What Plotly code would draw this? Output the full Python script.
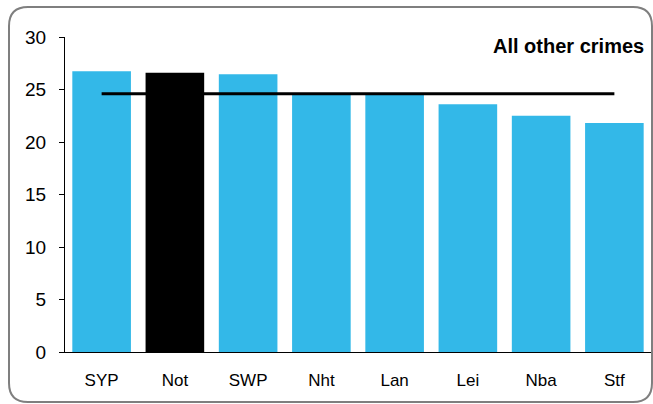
import plotly.graph_objects as go

categories = ["SYP", "Not", "SWP", "Nht", "Lan", "Lei", "Nba", "Stf"]
values = [26.75, 26.6, 26.45, 24.5, 24.5, 23.6, 22.5, 21.8]
highlight = "Not"
average = 24.6
title_text = "All other crimes"

BLUE = "#33B8E8"
colors = ["#000000" if c == highlight else BLUE for c in categories]

W, H = 653, 404
ml, mr, mt, mb = 65, 2, 37, 52
pw, ph = W - ml - mr, H - mt - mb

def px(x):
    return (x - ml) / pw

def py(y):
    return (H - mb - y) / ph

fig = go.Figure()
fig.add_trace(go.Bar(x=categories, y=values, marker=dict(color=colors, line=dict(width=0)),
                     width=0.8, showlegend=False, hoverinfo="x+y"))
fig.add_trace(go.Scatter(x=[categories[0], categories[-1]], y=[average, average], mode="lines",
                         line=dict(color="#000000", width=3), showlegend=False))

# rounded frame
x0, x1, y0, y1, r = 9, 652, 7, 402, 19
rx, ry = r / pw, r / ph
X0, X1, Y0, Y1 = px(x0), px(x1), py(y1), py(y0)
path = (f"M {X0+rx},{Y1} L {X1-rx},{Y1} Q {X1},{Y1} {X1},{Y1-ry} "
        f"L {X1},{Y0+ry} Q {X1},{Y0} {X1-rx},{Y0} "
        f"L {X0+rx},{Y0} Q {X0},{Y0} {X0},{Y0+ry} "
        f"L {X0},{Y1-ry} Q {X0},{Y1} {X0+rx},{Y1} Z")

fig.update_layout(
    width=W, height=H,
    margin=dict(l=ml, r=mr, t=mt, b=mb),
    paper_bgcolor="white", plot_bgcolor="white",
    font=dict(family="Liberation Sans, Arial, sans-serif", size=17, color="#000000"),
    bargap=0.2,
    xaxis=dict(showline=True, linecolor="#000000", linewidth=1, ticks="", showgrid=False,
               tickfont=dict(size=17), ticklabelstandoff=13, range=[-0.5, 7.5]),
    yaxis=dict(range=[0, 30], dtick=5, showline=True, linecolor="#000000", linewidth=1,
               ticks="outside", ticklen=5, tickcolor="#000000", showgrid=False,
               zeroline=False, tickfont=dict(size=19), ticklabelstandoff=9),
    shapes=[dict(type="path", xref="paper", yref="paper", path=path,
                 line=dict(color="#7f7f7f", width=2), fillcolor="rgba(0,0,0,0)", layer="above")],
    annotations=[dict(text="<b>" + title_text + "</b>", xref="paper", yref="paper",
                      x=px(646), y=py(46), xanchor="right", yanchor="middle",
                      showarrow=False, font=dict(size=20))],
)

fig.write_html("out.html", config={"displayModeBar": False},
               post_script="document.body.style.margin='0';document.body.style.overflow='hidden';")
